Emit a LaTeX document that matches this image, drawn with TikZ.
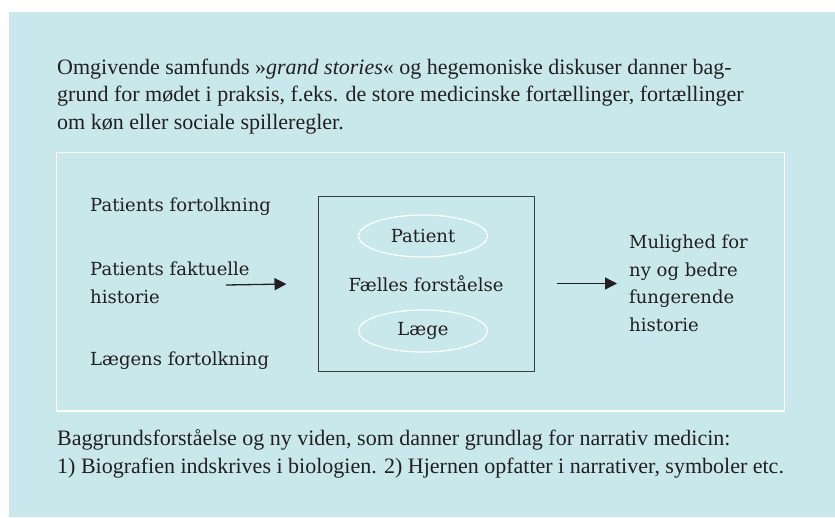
\documentclass[tikz,border=0pt]{standalone}
\usepackage{fontspec}
\setmainfont{Liberation Serif}
\newfontfamily\diagfont{DejaVu Serif}
\usetikzlibrary{arrows.meta,shapes.geometric}

\definecolor{bgblue}{RGB}{201,232,236}
\definecolor{ink}{RGB}{35,31,32}
\definecolor{rammegraa}{RGB}{60,60,60}

\begin{document}
\begin{tikzpicture}[x=1pt,y=-1pt,
	para/.style={anchor=base west, align=left, inner sep=0, text=ink,
		font=\fontsize{22}{27.5}\selectfont},
	tekst/.style={anchor=base west, align=left, inner sep=0, text=ink,
		font=\diagfont\fontsize{18}{27.5}\selectfont},
	oval/.style={ellipse, draw=white, line width=1.2pt, inner sep=0,
		minimum width=129pt, minimum height=42pt, text=ink,
		font=\diagfont\fontsize{18}{20}\selectfont},
	pil/.style={ink, line width=1.3pt, -{Triangle[length=12pt,width=12pt]}}
]

	\useasboundingbox (0,0) rectangle (835,517);
	\fill[bgblue] (9,12) rectangle (835,517);
	\draw[white, line width=1.2pt] (56.5,152.5) rectangle (784.5,411);

	% top and bottom text
	\node[para] (grand) at (57,129) {Omgivende samfunds »\textit{grand stories}« og hegemoniske diskuser danner bag-\\grund for mødet i praksis, f.eks. de store medicinske fortællinger, fortællinger\\om køn eller sociale spilleregler.};
	\node[para] (viden) at (57,473) {Baggrundsforståelse og ny viden, som danner grundlag for narrativ medicin:\\1) Biografien indskrives i biologien. 2) Hjernen opfatter i narrativer, symboler etc.};

	% left side
	\node[tekst] (pfort) at (90,211) {Patients fortolkning};
	\node[tekst] (pfakt) at (90,303) {Patients faktuelle\\historie};
	\node[tekst] (lfort) at (90,365) {Lægens fortolkning};

	% the box
	\node[draw=rammegraa, line width=1pt, minimum width=216pt, minimum height=175pt,
		text=ink, font=\diagfont\fontsize{18}{20}\selectfont] (faelles) at (426,283.5) {Fælles forståelse};
	\node[oval] (patient) at (423,236) {Patient};
	\node[oval] (laege) at (423,331) {Læge};

	% right side
	\node[tekst] (mulighed) at (629,331) {Mulighed for\\ny og bedre\\fungerende\\historie};

	\coordinate (fra) at (226,285);
	\draw[pil, shorten >=31pt] (fra) -- (faelles.west);
	\draw[pil, shorten <=22pt, shorten >=12pt] (faelles.east) -- (mulighed.west |- faelles.east);

\end{tikzpicture}
\end{document}
